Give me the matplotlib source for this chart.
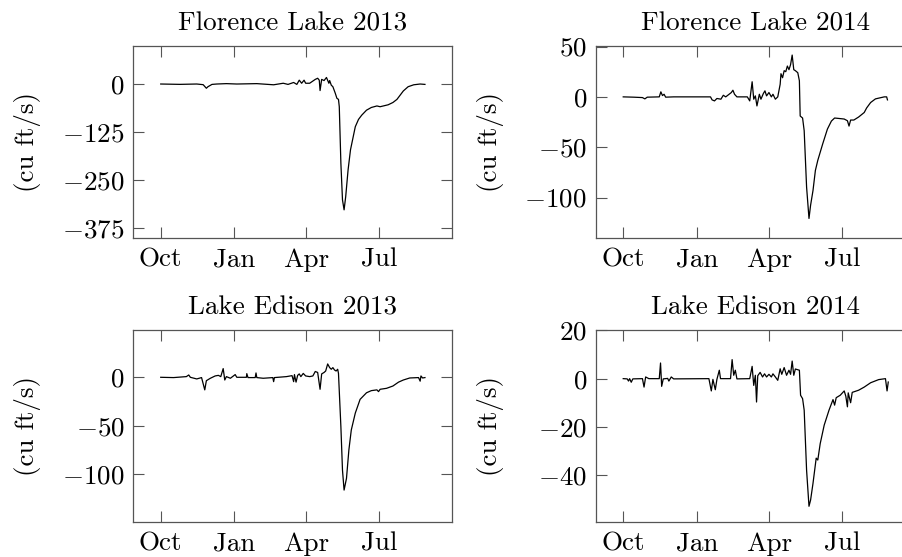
import matplotlib
matplotlib.use("Agg")
import matplotlib.pyplot as plt

plt.rcParams['mathtext.fontset'] = 'cm'
plt.rcParams['font.family'] = ['cmr10', 'DejaVu Serif']
plt.rcParams['axes.formatter.use_mathtext'] = True

# x positions are days since 1 October of the water year
month_ticks = [0, 92, 182, 273]
month_labels = ['Oct', 'Jan', 'Apr', 'Jul']

fl13_day = [0, 24, 45, 53, 57, 59, 64, 70, 82, 95, 120, 141, 153, 159, 166, 170, 173, 176, 179, 181,
            186, 193, 196, 198, 199, 201, 204, 207, 210, 211, 213, 215, 218, 220, 222, 223, 225, 227,
            229, 231, 234, 237, 240, 243, 247, 251, 257, 263, 270, 274, 278, 284, 290, 295, 299, 303,
            309, 316, 324, 330]
fl13_val = [0, -0.9, 0, -1.7, -11, -7, -1, 0, 1, 0, 1, -2, 2, -1, 4, -1, 10, 2, 10, 2,
            2, 12, 15, 10, -17, 12, 9, 17, 2, 9, -3, -7, -24, -37, -40, -59, -206, -301,
            -327, -293, -223, -171, -141, -111, -92, -81, -68, -61, -57, -59, -57, -54, -48, -40, -29, -18,
            -7, -2, 0, -1]

fl14_day = [0, 13, 24, 27, 30, 45, 47, 49, 51, 53, 63, 109, 111, 114, 117, 122, 125, 128, 135, 137,
            139, 142, 155, 158, 161, 163, 165, 167, 170, 172, 175, 177, 179, 182, 185, 187, 190, 193,
            196, 197, 199, 201, 203, 205, 207, 209, 211, 213, 215, 218, 220, 221, 224, 226, 229, 232,
            234, 237, 240, 243, 249, 255, 260, 264, 269, 276, 280, 282, 284, 288, 294, 301, 304, 309,
            315, 326, 329, 330]
fl14_val = [0, -0.3, -0.7, -2, -0.3, 0, 5, 1.3, 2.6, -0.3, 0, 0, -3, -4, -1.6, -2.3, 1.6, 0, 4.3, 6.6,
            2.6, 0, 0, -4, 15, -2.3, 1, -9, 2.6, -2.3, 3.3, 6, 1, 4.3, 0, 2.6, -2.3, 0,
            12.5, 23, 19, 26, 25, 30.6, 27, 32, 41.5, 27, 26, 24, 16, -19, -21, -33.6, -89.5, -120.7,
            -107.6, -93, -73, -63, -47, -32, -24, -21, -21.4, -22, -23.7, -29, -23, -23, -20, -15.5, -11, -5.6,
            -2, 0, 0, -3]

ed13_day = [0, 16, 32, 35, 37, 45, 51, 55, 57, 62, 68, 72, 75, 78, 80, 82, 87, 93, 95, 107,
            107.5, 109, 118, 119, 120, 128, 140, 141, 142, 157, 164, 166, 167, 169, 171, 173, 175, 178,
            181, 186, 190, 193, 196, 199, 201, 204, 206, 208.5, 211, 213, 215, 217, 219, 221, 222, 225,
            227, 229, 232, 235, 238, 243, 249, 257, 263, 270, 272, 274, 282, 290, 297, 303, 311, 322,
            324, 325, 327, 330]
ed13_val = [0, -0.3, 0.7, 2.4, 0, -1.7, -0.3, -13, -3.5, -1, 1.4, 2, 0.7, 9, -2.8, 0.7, -1, 2.8, 0, 0,
            3.8, -0.3, -0.3, 4.5, -0.3, -1, -0.3, -4.5, -0.3, 0.7, 1.7, -4.5, 2.8, -5, 2, 3.5, 0.7, 4,
            1.4, 0.7, 1.4, 6, 5, -12.4, 3.5, 5, 6.5, 13.8, 10, 8.3, 10, 7.6, 6.5, 8.3, 4, -51,
            -96, -116.6, -104.5, -75, -54.5, -37, -22.8, -16, -13.8, -13, -14.8, -12.4, -11.4, -9, -5, -2.8, -0.7, -0.3,
            -4, 1.4, -0.7, -0.3]

ed14_day = [0, 5, 6.6, 8, 10, 12, 24, 26, 28, 32, 45, 46.6, 48, 50, 55.5, 57, 60, 63, 107, 110,
            112, 115, 117, 120, 121.5, 134, 136, 138, 140, 142, 158, 161, 163, 165, 166.5, 168, 171,
            174, 176.5, 179, 182, 185, 187, 190, 193, 196, 198, 201, 204, 207, 209, 211, 213, 215, 218,
            220, 221.5, 224, 226, 229, 232, 234, 237, 241, 243, 246, 251, 257, 262, 264, 266, 271, 276,
            278, 280, 281, 284, 286, 294, 301, 309, 319, 327.5, 329.5, 331]
ed14_val = [0, -0.1, -1, 0, -1.5, -0.1, 0, -3.5, 0.7, 0, 0, 6.5, -3.2, -0.1, 0.1, -1, 0.7, -0.1, 0, -5.1,
            -0.3, -4.6, -0.3, 3.5, 0, 0, 7.9, 1.4, 3.5, -0.1, 0, 5.1, -2.8, 1.4, -9.7, 1.2, 2.6,
            0.7, 2, 0.7, 1.8, 0.7, 2, 0.7, -0.7, 4.1, 1.8, 4.6, 1.4, 3.5, 1.8, 7.3, 1.4, 4, 3.7,
            3.5, -6.9, -8.3, -13.1, -38, -53, -50.4, -43.5, -33, -33.8, -27, -19.3, -13.1, -8.7, -11, -7.9, -6.9, -5.1,
            -7.3, -11.7, -5.9, -10, -5.7, -4.8, -3.5, -1.7, -0.4, 0, -5.1, -1.4]

titles = ['Florence Lake 2013', 'Florence Lake 2014', 'Lake Edison 2013', 'Lake Edison 2014']
series_days = [fl13_day, fl14_day, ed13_day, ed14_day]
series_vals = [fl13_val, fl14_val, ed13_val, ed14_val]
yticks = [[0, -125, -250, -375], [50, 0, -50, -100], [0, -50, -100], [20, 0, -20, -40]]
ylims = [(-399.4, 98.8), (-139.8, 50.5), (-149.3, 48.9), (-59.4, 20.2)]
ylabel = '(cu ft/s)'

W, H = 903, 557
fig = plt.figure(figsize=(W / 100, H / 100), dpi=100)
ax_w, ax_h = 318.2, 191.7
lefts = [133.5, 596.0]
tops = [46.0, 330.0]

spine_col = '#555555'
fs = 19.5
for i in range(4):
    r, c = divmod(i, 2)
    ax = fig.add_axes([lefts[c] / W, 1 - (tops[r] + ax_h) / H, ax_w / W, ax_h / H])
    ax.plot(series_days[i], series_vals[i], color='black', lw=0.9)
    ax.set_xlim(-34, 363.4)
    ax.set_ylim(*ylims[i])
    ax.set_xticks(month_ticks)
    ax.set_xticklabels(month_labels, fontsize=fs, va='baseline')
    ax.set_yticks(yticks[i])
    ax.set_yticklabels(['$%d$' % v if v >= 0 else '$-%d$' % (-v) for v in yticks[i]], fontsize=fs)
    ax.tick_params(direction='in', length=8.2, width=0.8, color=spine_col,
                   top=True, right=True)
    ax.tick_params(axis='x', pad=20.8)
    ax.tick_params(axis='y', pad=6.5)
    for s in ax.spines.values():
        s.set_color(spine_col)
        s.set_linewidth(0.9)
    ax.set_title(titles[i], fontsize=fs, pad=11)
    ax.set_ylabel(ylabel, fontsize=fs)
    ax.yaxis.set_label_coords(-0.29, 0.5)

fig.savefig('out.png', dpi=100)
